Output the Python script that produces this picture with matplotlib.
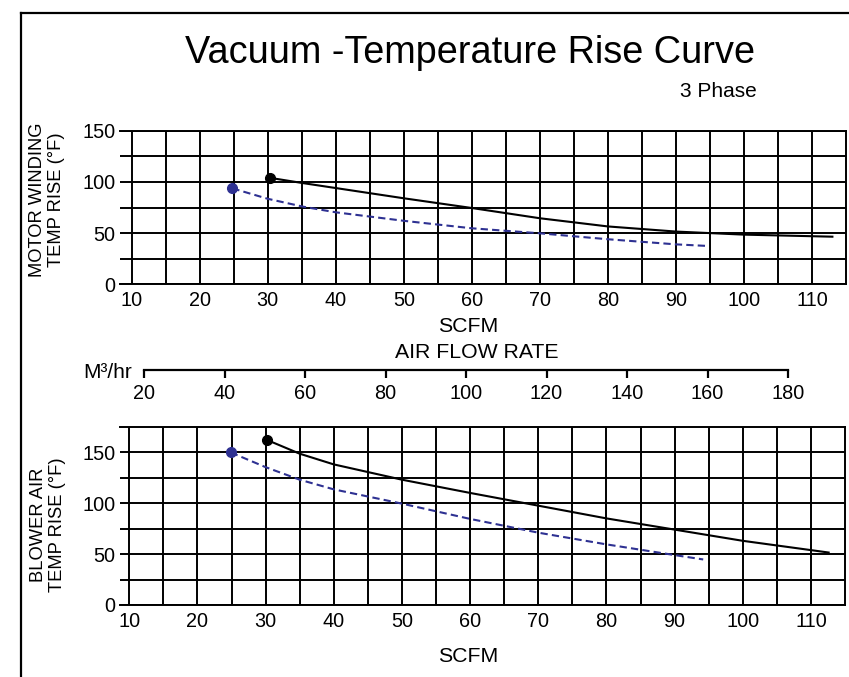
import matplotlib
matplotlib.use("Agg")
import matplotlib.pyplot as plt
from matplotlib.lines import Line2D

plt.rcParams['font.family'] = ['Liberation Sans', 'DejaVu Sans']

# motor winding temp rise (top chart)
motor_scfm_solid = [30.3, 35, 40, 50, 60, 70, 80, 90, 100, 113]
motor_temp_solid = [104, 99, 94, 84, 74.5, 64.5, 56.5, 51.5, 48.5, 46.5]
motor_scfm_dash = [24.8, 30, 35.2, 40, 50, 60, 70, 80, 90, 94.8]
motor_temp_dash = [93.7, 83.5, 75.8, 70.3, 62, 54.7, 49.8, 44, 39, 37.4]

# blower air temp rise (bottom chart)
blower_scfm_solid = [30.2, 35, 40, 50, 60, 70, 80, 90, 100, 112.6]
blower_temp_solid = [162, 148.5, 138, 123, 110, 97.5, 85, 74, 63, 51.5]
blower_scfm_dash = [24.9, 30, 35, 40, 50, 60, 70, 80, 90, 94.2]
blower_temp_dash = [149.7, 135.3, 123, 113.5, 99.5, 84.5, 71, 59.5, 49, 44.7]

scfm_ticks = list(range(10, 120, 10))
scfm_minor = list(range(15, 115, 10))
m3hr_ticks = list(range(20, 200, 20))

BLUE = '#2E3192'
W, H = 849, 677


def fx(px):
    return px / W


def fy(py):
    return 1 - py / H


fig = plt.figure(figsize=(W / 100, H / 100), dpi=100)


def grid_axes(rect, xlim, ylim, yticks, yminor):
    ax = fig.add_axes(rect)
    ax.set_xlim(*xlim)
    ax.set_ylim(*ylim)
    ax.set_xticks(scfm_ticks)
    ax.set_xticks(scfm_minor, minor=True)
    ax.set_yticks(yticks)
    ax.set_yticks(yminor, minor=True)
    ax.grid(which='both', color='black', linewidth=1.4)
    ax.set_axisbelow(True)
    for side in ['top', 'right', 'bottom']:
        ax.spines[side].set_linewidth(1.4)
    ax.spines['left'].set_visible(False)
    ax.tick_params(which='both', length=0, labelsize=14.3)
    ax.tick_params(axis='x', pad=5)
    ax.tick_params(axis='y', pad=3.4)
    return ax


ax1 = grid_axes([fx(120), fy(284.3), fx(726), 153.6 / H], (8.28, 115), (0, 150),
                [0, 50, 100, 150], [25, 75, 125])
ax1.plot(motor_scfm_solid, motor_temp_solid, color='black', lw=1.5)
ax1.plot(motor_scfm_dash, motor_temp_dash, color=BLUE, lw=1.5, dashes=(3.5, 2))
ax1.plot(motor_scfm_solid[0], motor_temp_solid[0], 'o', color='black', ms=7, clip_on=False)
ax1.plot(motor_scfm_dash[0], motor_temp_dash[0], 'o', color=BLUE, ms=7, clip_on=False)

ax2 = grid_axes([fx(120), fy(605), fx(725), 178.3 / H], (8.64, 115), (0, 175),
                [0, 50, 100, 150], [25, 75, 125])
ax2.plot(blower_scfm_solid, blower_temp_solid, color='black', lw=1.5)
ax2.plot(blower_scfm_dash, blower_temp_dash, color=BLUE, lw=1.5, dashes=(3.5, 2))
ax2.plot(blower_scfm_solid[0], blower_temp_solid[0], 'o', color='black', ms=7, clip_on=False)
ax2.plot(blower_scfm_dash[0], blower_temp_dash[0], 'o', color=BLUE, ms=7, clip_on=False)

# M3/hr secondary scale
ax3 = fig.add_axes([fx(144), fy(370), fx(644), 0.0001])
ax3.set_xlim(m3hr_ticks[0], m3hr_ticks[-1])
ax3.set_xticks(m3hr_ticks)
ax3.set_yticks([])
for side in ['top', 'right', 'left']:
    ax3.spines[side].set_visible(False)
ax3.spines['bottom'].set_linewidth(1.6)
ax3.tick_params(axis='x', direction='out', length=6, width=1.6, labelsize=14.3, pad=4)
ax3.patch.set_alpha(0)

# texts
fig.text(fx(470), fy(63), 'Vacuum -Temperature Rise Curve', fontsize=27.3,
         ha='center', va='baseline')
fig.text(fx(757), fy(97), '3 Phase', fontsize=15, ha='right', va='baseline')
fig.text(fx(468), fy(332), 'SCFM', fontsize=15.3, ha='center', va='baseline')
fig.text(fx(477), fy(358), 'AIR FLOW RATE', fontsize=15.3, ha='center', va='baseline')
fig.text(fx(132), fy(378), 'M³/hr', fontsize=15, ha='right', va='baseline')
fig.text(fx(468), fy(662), 'SCFM', fontsize=15.3, ha='center', va='baseline')
fig.text(fx(47), fy(200), 'MOTOR WINDING\nTEMP RISE (°F)', fontsize=13.2,
         rotation=90, ha='center', va='center', multialignment='center', linespacing=1.15)
fig.text(fx(48), fy(525), 'BLOWER AIR\nTEMP RISE (°F)', fontsize=13.2,
         rotation=90, ha='center', va='center', multialignment='center', linespacing=1.15)

# outer frame (left and top edges)
fig.add_artist(Line2D([fx(21), fx(21)], [fy(13), 0], color='black', lw=1.6))
fig.add_artist(Line2D([fx(21), 1], [fy(13), fy(13)], color='black', lw=1.6))

fig.savefig('out.png', dpi=100)
